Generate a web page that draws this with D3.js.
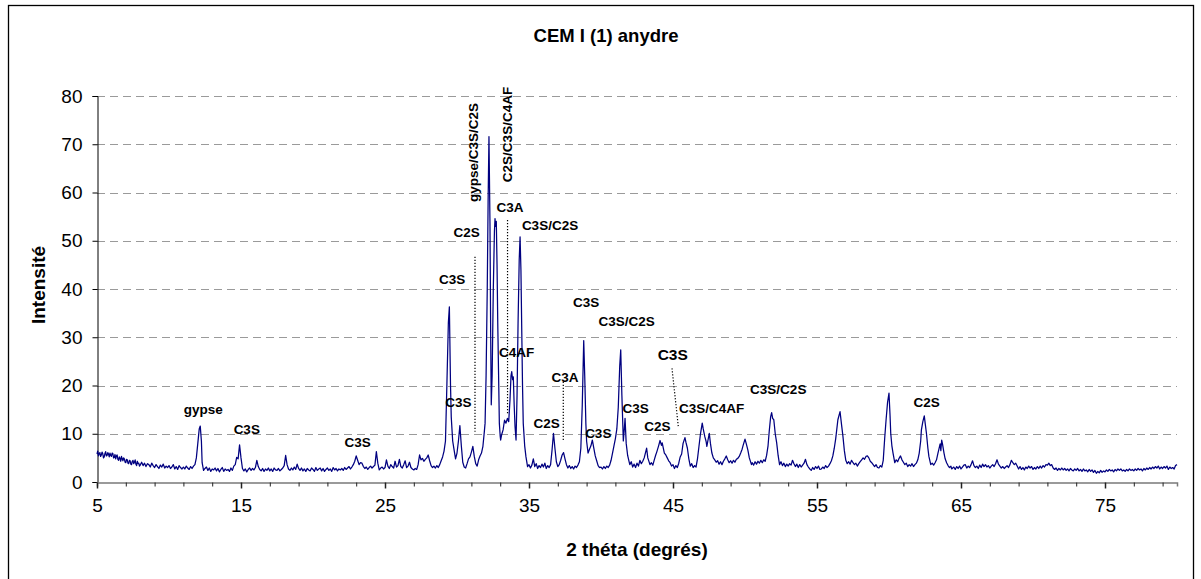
<!DOCTYPE html>
<html><head><meta charset="utf-8">
<script src="https://cdn.jsdelivr.net/npm/d3@7"></script>
<style>
body{margin:0;background:#fff;}
svg{display:block;}
text{font-family:Arial,"Liberation Sans",sans-serif;}
</style>
</head><body>
<svg id="chart" width="1201" height="579"></svg>
<script>
// ---------- DATA ----------
const chartTitle = "CEM I (1)  anydre";
const xTitle = "2 théta (degrés)";
const yTitle = "Intensité";
const xDomain = [5, 80];
const yDomain = [0, 80];
const yTicks = [0, 10, 20, 30, 40, 50, 60, 70, 80];
const xTickMarks = [5,7,9,11,13,15,17,19,21,23,25,27,29,31,33,35,37,39,41,43,45,47,49,51,53,55,57,59,61,63,65,67,69,71,73,75,77,79];
const xTickLabels = [5, 15, 25, 35, 45, 55, 65, 75];

// diffractogram: [2theta, intensity]
const scan = [
[5.0,5.8],[5.05,6.4],[5.1,5.4],[5.15,5.9],[5.2,6.1],[5.25,5.3],[5.3,5.6],[5.35,6.2],[5.4,5.9],[5.45,5.0],[5.5,5.2],[5.55,5.9],[5.6,6.3],[5.65,5.4],[5.7,5.5],[5.75,6.1],[5.8,5.8],[5.85,5.2],[5.9,6.0],[5.95,5.5],
[6.0,5.3],[6.05,6.0],[6.1,5.9],[6.15,5.0],[6.2,5.1],[6.25,5.7],[6.3,4.8],[6.35,5.4],[6.4,5.6],[6.45,4.7],[6.5,4.5],[6.55,5.2],[6.6,4.9],[6.65,4.3],[6.7,5.3],[6.75,4.8],[6.8,4.4],[6.85,5.0],[6.9,4.8],[6.95,4.1],
[7.0,4.0],[7.05,4.7],[7.1,4.6],[7.15,3.9],[7.2,3.8],[7.25,4.5],[7.3,4.4],[7.35,3.7],[7.4,3.6],[7.45,4.3],[7.5,4.5],[7.55,3.8],[7.6,4.1],[7.65,4.6],[7.7,3.7],[7.75,3.4],[7.8,4.3],[7.85,3.8],[7.9,3.9],[7.95,3.3],
[8.0,3.5],[8.1,4.1],[8.2,3.4],[8.3,3.9],[8.4,3.2],[8.5,3.8],[8.6,3.6],[8.7,3.1],[8.8,3.9],[8.9,3.4],
[9.0,3.0],[9.1,3.6],[9.2,3.2],[9.3,2.8],[9.4,3.5],[9.5,3.1],[9.6,3.7],[9.7,2.9],[9.8,3.3],[9.9,3.0],
[10.0,3.4],[10.1,2.8],[10.2,3.1],[10.3,3.6],[10.4,2.7],[10.5,3.2],[10.6,2.6],[10.7,3.4],[10.8,3.0],[10.9,2.7],
[11.0,3.1],[11.1,2.7],[11.2,3.3],[11.3,2.9],[11.4,2.6],[11.5,3.2],[11.6,2.8],[11.7,3.3],[11.8,3.6],[11.9,5.0],
[12.0,8.0],[12.1,11.0],[12.17,11.6],[12.25,8.5],[12.3,4.0],[12.4,2.4],[12.5,2.8],[12.6,3.1],[12.7,2.4],[12.8,2.9],[12.9,2.2],
[13.0,2.7],[13.1,2.5],[13.2,2.9],[13.3,2.3],[13.4,2.8],[13.5,2.1],[13.6,2.6],[13.7,3.0],[13.8,2.2],[13.9,2.7],
[14.0,2.4],[14.1,2.6],[14.2,2.2],[14.3,2.9],[14.4,2.4],[14.5,3.3],[14.6,3.6],[14.7,5.1],[14.8,4.8],[14.9,7.7],
[15.0,5.0],[15.1,2.8],[15.2,2.3],[15.3,2.7],[15.4,2.1],[15.5,2.6],[15.6,2.9],[15.7,2.4],[15.8,2.8],[15.9,2.5],
[16.0,3.0],[16.1,4.5],[16.2,3.2],[16.3,2.6],[16.4,2.3],[16.5,2.8],[16.6,2.2],[16.7,2.7],[16.8,2.4],[16.9,2.9],
[17.0,2.3],[17.1,2.7],[17.2,2.2],[17.3,2.9],[17.4,2.5],[17.5,2.4],[17.6,2.8],[17.7,2.3],[17.8,2.6],[17.9,2.9],
[18.0,3.4],[18.1,5.5],[18.2,3.6],[18.3,2.7],[18.4,2.4],[18.5,2.9],[18.6,2.5],[18.7,3.1],[18.8,2.6],[18.9,3.7],
[19.0,2.8],[19.1,2.4],[19.2,2.9],[19.3,2.3],[19.4,2.7],[19.5,2.2],[19.6,2.8],[19.7,2.5],[19.8,2.3],[19.9,2.9],
[20.0,2.6],[20.1,2.2],[20.2,3.0],[20.3,2.4],[20.4,2.7],[20.5,2.9],[20.6,2.3],[20.7,2.8],[20.8,2.2],[20.9,2.6],
[21.0,2.9],[21.1,2.4],[21.2,2.7],[21.3,2.2],[21.4,3.0],[21.5,2.5],[21.6,2.8],[21.7,2.3],[21.8,2.7],[21.9,2.5],
[22.0,2.8],[22.1,2.4],[22.2,3.0],[22.3,2.6],[22.4,2.9],[22.5,3.2],[22.6,2.7],[22.7,3.1],[22.8,3.6],[22.9,4.3],
[23.0,5.4],[23.1,4.5],[23.2,3.6],[23.3,4.0],[23.4,3.9],[23.5,3.2],[23.6,2.8],[23.7,3.1],[23.8,2.6],[23.9,3.0],
[24.0,3.3],[24.1,2.9],[24.2,3.2],[24.3,3.5],[24.4,6.3],[24.5,3.9],[24.6,2.5],[24.7,2.9],[24.8,3.1],[24.9,2.7],
[25.0,3.0],[25.1,4.6],[25.2,3.3],[25.3,2.8],[25.4,3.6],[25.5,3.2],[25.6,2.9],[25.7,4.3],[25.8,3.1],[25.9,3.4],
[26.0,4.7],[26.1,3.2],[26.2,2.9],[26.3,3.6],[26.4,4.4],[26.5,3.0],[26.6,3.3],[26.7,4.1],[26.8,3.0],[26.9,2.7],
[27.0,2.5],[27.1,2.8],[27.2,2.6],[27.3,3.6],[27.4,5.6],[27.5,4.6],[27.6,4.9],[27.7,4.3],[27.8,4.7],[27.9,5.0],
[28.0,5.6],[28.1,4.4],[28.2,3.4],[28.3,3.0],[28.4,3.3],[28.5,2.9],[28.6,3.4],[28.7,3.0],[28.8,3.6],[28.9,4.4],
[29.0,5.2],[29.1,6.4],[29.2,8.5],[29.3,20.4],[29.4,33.0],[29.47,36.3],[29.55,20.0],[29.6,13.5],[29.7,8.5],[29.8,6.6],[29.9,4.8],
[30.0,6.0],[30.1,8.5],[30.2,11.7],[30.3,7.5],[30.4,4.1],[30.5,3.1],[30.6,2.9],[30.7,3.8],[30.8,4.8],[30.9,5.2],
[31.0,6.2],[31.1,7.4],[31.2,5.3],[31.3,3.8],[31.4,3.3],[31.5,4.6],[31.6,5.4],[31.7,6.0],[31.8,7.4],[31.9,10.5],[31.95,12.2],
[32.02,22.0],[32.1,39.8],[32.16,58.0],[32.22,71.6],[32.29,53.7],[32.34,30.0],[32.38,16.0],[32.44,22.0],[32.52,39.8],[32.6,52.0],[32.64,54.6],[32.68,53.0],[32.73,54.0],[32.78,45.0],[32.83,32.9],[32.9,20.0],[32.94,12.2],
[33.0,9.5],[33.03,8.7],[33.1,9.8],[33.2,10.8],[33.3,12.8],[33.4,12.2],[33.5,13.2],[33.59,12.5],[33.68,17.0],[33.75,22.0],[33.8,22.9],[33.86,21.2],[33.91,21.8],[33.97,16.0],
[34.03,11.5],[34.1,8.7],[34.17,18.0],[34.24,32.9],[34.32,46.0],[34.38,50.8],[34.44,44.0],[34.49,32.9],[34.55,20.0],[34.6,12.2],[34.7,7.5],[34.79,5.2],[34.9,3.2],
[35.0,3.6],[35.1,2.9],[35.2,3.5],[35.3,4.8],[35.4,3.2],[35.5,3.8],[35.6,2.8],[35.7,3.4],[35.8,3.0],[35.9,3.7],
[36.0,3.1],[36.1,3.9],[36.2,2.8],[36.3,3.4],[36.4,3.0],[36.5,3.6],[36.6,6.6],[36.7,10.1],[36.8,7.0],[36.9,4.2],
[37.0,3.2],[37.1,3.6],[37.2,4.5],[37.3,5.6],[37.4,6.1],[37.5,4.8],[37.6,3.6],[37.7,2.9],[37.8,3.4],[37.9,2.8],
[38.0,3.2],[38.1,2.7],[38.2,3.3],[38.3,3.0],[38.4,3.5],[38.5,4.2],[38.6,7.0],[38.7,16.0],[38.8,29.3],[38.87,22.0],[38.95,12.0],
[39.0,8.5],[39.1,6.0],[39.2,6.8],[39.3,7.5],[39.4,8.7],[39.5,7.0],[39.6,5.4],[39.7,4.4],[39.8,3.4],[39.9,3.0],
[40.0,3.1],[40.1,2.7],[40.2,3.2],[40.3,2.8],[40.4,3.3],[40.5,3.0],[40.6,3.5],[40.7,4.5],[40.8,6.0],[40.9,7.5],
[41.0,9.0],[41.1,11.0],[41.2,15.5],[41.3,24.0],[41.37,27.4],[41.45,18.0],[41.55,8.5],[41.62,11.0],[41.67,13.2],[41.75,8.0],[41.85,5.5],[41.95,4.2],
[42.0,3.6],[42.1,4.2],[42.2,3.1],[42.3,3.7],[42.4,3.0],[42.5,3.9],[42.6,3.3],[42.7,4.5],[42.8,3.8],[42.9,4.3],
[43.0,5.0],[43.1,6.2],[43.17,7.0],[43.25,5.0],[43.4,3.6],[43.5,4.0],[43.6,3.5],[43.7,4.6],[43.8,5.6],[43.87,6.2],
[44.0,7.5],[44.1,8.6],[44.2,7.6],[44.25,8.1],[44.4,6.0],[44.5,5.6],[44.6,5.0],[44.7,4.4],[44.8,4.0],[44.9,3.3],
[45.0,3.6],[45.1,2.8],[45.2,3.4],[45.3,3.0],[45.4,3.9],[45.5,5.2],[45.6,5.8],[45.7,8.0],[45.83,9.2],[45.9,8.2],
[46.0,7.0],[46.1,4.8],[46.2,3.3],[46.3,3.8],[46.4,3.0],[46.5,3.4],[46.6,3.1],[46.7,4.8],[46.8,7.3],[46.9,9.8],
[47.03,12.2],[47.1,11.0],[47.2,9.5],[47.3,8.4],[47.35,7.4],[47.45,9.0],[47.52,10.1],[47.6,8.0],[47.7,6.0],[47.8,5.0],[47.9,4.6],
[48.0,4.1],[48.1,4.4],[48.2,3.7],[48.3,4.2],[48.4,3.6],[48.5,4.3],[48.6,4.8],[48.7,5.4],[48.8,4.6],[48.9,4.0],
[49.0,4.4],[49.1,3.9],[49.2,4.5],[49.3,4.1],[49.4,4.7],[49.5,4.9],[49.6,5.3],[49.7,6.0],[49.8,6.8],[49.87,7.6],
[50.0,8.9],[50.1,7.8],[50.2,6.6],[50.3,5.0],[50.45,3.6],[50.5,4.0],[50.6,3.5],[50.7,4.2],[50.8,3.7],[50.9,4.3],
[51.0,3.9],[51.1,4.5],[51.2,4.0],[51.3,4.6],[51.4,4.3],[51.5,5.5],[51.6,7.5],[51.68,10.4],[51.78,13.5],[51.85,14.4],[51.92,13.2],
[52.0,12.9],[52.1,10.0],[52.2,8.1],[52.3,5.5],[52.4,3.6],[52.5,4.2],[52.6,3.4],[52.7,3.9],[52.8,3.2],[52.9,3.7],
[53.0,3.3],[53.1,3.8],[53.2,3.5],[53.3,4.5],[53.4,3.8],[53.5,3.2],[53.6,3.7],[53.7,3.0],[53.8,3.6],[53.9,3.1],
[54.0,3.5],[54.1,3.9],[54.2,4.7],[54.3,3.6],[54.4,3.1],[54.5,2.7],[54.6,2.4],[54.7,3.0],[54.8,2.6],[54.9,3.2],
[55.0,2.8],[55.1,3.3],[55.2,2.6],[55.3,2.7],[55.4,3.1],[55.5,2.8],[55.6,3.4],[55.7,3.0],[55.8,3.3],[55.9,3.8],
[56.0,4.4],[56.1,5.4],[56.2,7.0],[56.3,9.0],[56.45,12.9],[56.6,14.6],[56.7,12.0],[56.8,9.5],[56.9,6.5],
[57.0,4.5],[57.1,3.8],[57.2,4.2],[57.3,3.7],[57.4,4.5],[57.5,4.0],[57.6,3.6],[57.7,3.9],[57.8,3.3],[57.9,3.8],
[58.0,4.2],[58.1,4.6],[58.2,5.0],[58.3,4.7],[58.4,5.3],[58.5,5.4],[58.6,5.0],[58.7,4.3],[58.8,4.0],[58.9,3.6],
[59.0,3.2],[59.1,3.6],[59.2,3.0],[59.3,2.9],[59.4,3.4],[59.5,3.1],[59.6,4.5],[59.7,9.0],[59.8,13.0],[59.9,16.5],
[60.0,18.4],[60.07,14.0],[60.12,10.1],[60.2,7.5],[60.28,6.0],[60.4,4.0],[60.5,4.6],[60.6,4.2],[60.7,4.9],[60.8,5.4],[60.9,4.6],
[61.0,4.1],[61.1,3.6],[61.2,3.9],[61.3,3.2],[61.4,3.6],[61.5,3.3],[61.6,3.8],[61.7,3.2],[61.8,3.6],[61.9,3.9],
[62.0,4.6],[62.1,6.0],[62.2,8.5],[62.25,10.8],[62.35,12.5],[62.45,13.7],[62.52,12.0],[62.6,10.1],[62.7,7.0],[62.77,5.3],[62.9,3.6],
[63.0,3.9],[63.1,3.5],[63.2,4.0],[63.3,4.6],[63.4,6.0],[63.45,6.6],[63.55,7.9],[63.6,6.5],[63.66,8.7],[63.72,7.8],[63.82,6.0],[63.9,4.8],
[64.0,4.0],[64.1,3.4],[64.2,3.0],[64.3,3.3],[64.35,2.7],[64.5,3.1],[64.6,2.6],[64.7,3.2],[64.8,2.8],[64.9,3.3],
[65.0,2.7],[65.1,3.1],[65.2,3.5],[65.3,3.6],[65.4,2.9],[65.5,3.3],[65.6,3.0],[65.7,3.6],[65.8,4.4],[65.9,3.4],
[66.0,3.0],[66.1,3.3],[66.2,2.8],[66.3,3.5],[66.4,3.0],[66.5,3.7],[66.6,3.2],[66.7,3.6],[66.8,3.1],[66.9,3.4],
[67.0,2.9],[67.1,3.3],[67.2,3.6],[67.3,3.2],[67.4,3.8],[67.5,4.6],[67.6,3.7],[67.7,3.3],[67.8,2.9],[67.9,3.2],
[68.0,2.8],[68.1,3.1],[68.2,3.4],[68.3,3.0],[68.4,3.6],[68.5,4.5],[68.6,4.0],[68.7,3.6],[68.8,3.9],[68.9,3.3],
[69.0,2.7],[69.1,3.2],[69.2,2.6],[69.3,3.0],[69.4,2.5],[69.5,3.1],[69.6,2.8],[69.7,3.3],[69.8,2.9],[69.9,3.2],
[70.0,2.6],[70.1,3.0],[70.2,2.7],[70.3,3.2],[70.4,2.8],[70.5,3.3],[70.6,2.9],[70.7,3.4],[70.8,3.1],[70.9,3.6],
[71.0,3.5],[71.1,3.9],[71.2,3.4],[71.3,3.6],[71.4,2.9],[71.5,2.6],[71.6,2.9],[71.7,2.4],[71.8,2.8],[71.9,2.5],
[72.0,2.9],[72.1,2.5],[72.2,2.8],[72.3,2.4],[72.4,2.7],[72.5,2.3],[72.6,2.8],[72.7,2.5],[72.8,2.3],[72.9,2.7],
[73.0,2.4],[73.1,2.8],[73.2,2.3],[73.3,2.6],[73.4,2.2],[73.5,2.7],[73.6,2.3],[73.7,2.5],[73.8,2.1],[73.9,2.6],
[74.0,2.2],[74.1,2.5],[74.2,2.0],[74.3,2.4],[74.4,1.8],[74.5,2.2],[74.6,1.9],[74.7,2.4],[74.8,2.0],[74.9,2.3],
[75.0,2.1],[75.1,2.5],[75.2,2.2],[75.3,2.6],[75.4,2.3],[75.5,2.5],[75.6,2.1],[75.7,2.6],[75.8,2.3],[75.9,2.7],
[76.0,2.4],[76.1,2.7],[76.2,2.3],[76.3,2.5],[76.4,2.2],[76.5,2.6],[76.6,2.3],[76.7,2.7],[76.8,2.4],[76.9,2.6],
[77.0,2.3],[77.1,2.7],[77.2,2.4],[77.3,2.8],[77.4,2.5],[77.5,2.7],[77.6,2.3],[77.7,2.8],[77.8,2.5],[77.9,2.9],
[78.0,2.6],[78.1,3.0],[78.2,2.7],[78.3,3.1],[78.4,2.8],[78.5,3.2],[78.6,2.9],[78.7,3.3],[78.8,2.7],[78.9,3.1],
[79.0,2.8],[79.1,3.2],[79.2,2.9],[79.3,3.3],[79.4,2.6],[79.5,3.1],[79.6,2.8],[79.7,3.0],[79.8,2.7],[79.9,3.4],[80.0,3.6]
];

// peak annotations (text, 2theta, intensity at label centre, font size, rotated?)
const labelText = ["gypse","C3S","C3S","C3S","C3S","C2S","gypse/C3S/C2S","C2S/C3S/C4AF","C3A","C3S/C2S","C4AF","C2S","C3A","C3S","C3S/C2S","C3S","C3S","C2S","C3S","C3S/C4AF","C3S/C2S","C2S"];
const labelX    = [12.38,15.40,23.10,29.67,30.09,30.67,31.09,33.49,33.68,36.46,34.14,36.23,37.50,38.96,41.78,39.81,42.40,43.91,44.98,47.68,52.31,62.61];
const labelY    = [15.07,10.92,8.23,42.01,16.64,51.88,68.29,72.02,56.93,53.26,26.88,12.17,21.82,37.24,33.43,10.22,15.27,11.61,26.47,15.27,19.21,16.64];
const labelSize = [13.5,13.5,13.5,13.5,13.5,13.5,13.5,13.5,13.5,13.5,13.5,13.5,13.5,13.5,13.5,13.5,13.5,13.5,15.5,13.5,13.5,13.5];
const labelRot  = [0,0,0,0,0,0,1,1,0,0,0,0,0,0,0,0,0,0,0,0,0,0];

// dotted leader lines in data units
const leaderX1 = [31.25, 33.51, 37.38, 44.93];
const leaderY1 = [46.69, 54.30, 20.79, 23.56];
const leaderX2 = [31.25, 33.51, 37.38, 45.37];
const leaderY2 = [10.42, 14.24, 8.70, 11.46];

// ---------- DRAW ----------
const svg = d3.select("#chart");
const W = 1201, H = 579;
svg.append("rect").attr("x",0).attr("y",0).attr("width",W).attr("height",H).attr("fill","#fff");
svg.append("rect").attr("x",8.5).attr("y",5.5).attr("width",1185).attr("height",600)
  .attr("fill","none").attr("stroke","#000").attr("stroke-width",1.3);

const x = d3.scaleLinear().domain(xDomain).range([97, 1177]);
const y = d3.scaleLinear().domain(yDomain).range([482, 96]);

// grid
svg.append("g").selectAll("line").data(yTicks.filter(d=>d>0)).join("line")
  .attr("x1", x(xDomain[0])).attr("x2", x(xDomain[1]))
  .attr("y1", d=>Math.round(y(d))+0.5).attr("y2", d=>Math.round(y(d))+0.5)
  .attr("stroke","#9a9a9a").attr("stroke-width",1.2).attr("stroke-dasharray","8,5");

// title
svg.append("text").attr("x",606).attr("y",42).attr("text-anchor","middle")
  .attr("font-size",18.5).attr("font-weight","bold").text(chartTitle);

// y axis
const yAxis = svg.append("g").attr("transform","translate(97.5,0)")
  .call(d3.axisLeft(y).tickValues(yTicks).tickSize(5).tickPadding(10).tickFormat(d3.format("d")));
yAxis.select(".domain").attr("stroke","#000");
yAxis.selectAll(".tick line").attr("stroke","#000");
yAxis.selectAll("text").attr("font-size",19).attr("fill","#000").attr("font-family","Arial, 'Liberation Sans', sans-serif");

// x axis
const xAxis = svg.append("g").attr("transform","translate(0,482.5)")
  .call(d3.axisBottom(x).tickValues(xTickMarks).tickSize(4).tickPadding(12)
    .tickFormat(d => xTickLabels.includes(d) ? d : ""));
xAxis.select(".domain").attr("stroke","#7a7a7a").attr("stroke-width",1.5);
xAxis.selectAll(".tick line").attr("stroke","#222").attr("y2", d => xTickLabels.includes(d) ? 6 : 4)
  .attr("stroke-width", d => xTickLabels.includes(d) ? 1.5 : 1);
xAxis.selectAll("text").attr("font-size",19).attr("fill","#000").attr("font-family","Arial, 'Liberation Sans', sans-serif");

// axis titles
svg.append("text").attr("x",637).attr("y",556).attr("text-anchor","middle")
  .attr("font-size",19).attr("font-weight","bold").text(xTitle);
svg.append("text").attr("transform","translate(45,285) rotate(-90)").attr("text-anchor","middle")
  .attr("font-size",19).attr("font-weight","bold").text(yTitle);

// data line
const line = d3.line().x(d=>x(d[0])).y(d=>y(d[1]));
svg.append("path").datum(scan).attr("d",line)
  .attr("fill","none").attr("stroke","#000080").attr("stroke-width",1.25).attr("stroke-linejoin","round");

// leader lines
svg.append("g").selectAll("line").data(leaderX1.map((d,i)=>i)).join("line")
  .attr("x1", i=>x(leaderX1[i])).attr("y1", i=>y(leaderY1[i]))
  .attr("x2", i=>x(leaderX2[i])).attr("y2", i=>y(leaderY2[i]))
  .attr("stroke","#000").attr("stroke-width",1.2).attr("stroke-dasharray","1.2,1.8");

// labels
const lg = svg.append("g");
labelText.forEach((t,i)=>{
  const px = x(labelX[i]), py = y(labelY[i]);
  const tx = lg.append("text").attr("text-anchor","middle").attr("dy","0.36em")
    .attr("font-size",labelSize[i]).attr("font-weight","bold").attr("fill","#000").text(t);
  if (labelRot[i]) tx.attr("transform",`translate(${px},${py}) rotate(-90)`);
  else tx.attr("x",px).attr("y",py);
});
</script>
</body></html>
